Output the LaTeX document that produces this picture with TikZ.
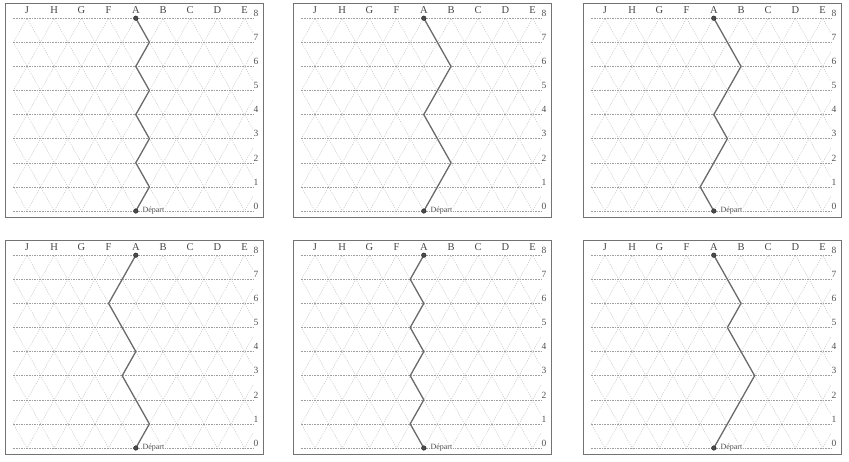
\documentclass[tikz,border=0pt]{standalone}
\usepackage{fontspec}
\setmainfont{Liberation Serif}
\begin{document}
\begin{tikzpicture}[x=1pt,y=1pt]
\tikzset{
 frame/.style={draw=black!55, line width=0.7pt},
 hline/.style={draw=black!38, line width=0.5pt, dash pattern=on 1.6pt off 1pt},
 dline/.style={draw=black!24, line width=0.45pt, dash pattern=on 1.2pt off 1.2pt},
 route/.style={draw=black!58, line width=1.3pt, line join=round},
 dot/.style={circle, fill=black!70, draw=black!85, line width=0.4pt, inner sep=0pt, minimum size=4.6pt},
 collab/.style={font=\fontsize{10.5}{10.5}\selectfont, text=black!72, inner sep=0pt},
 rowlab/.style={font=\fontsize{9.5}{9.5}\selectfont, text=black!68, inner sep=0pt, anchor=west},
 deplab/.style={font=\fontsize{8}{8}\selectfont, text=black!70, fill=white, inner sep=1pt, anchor=west},
}
\useasboundingbox (0,0) rectangle (849,461);
\newcommand\drawpanel[4]{%
\begin{scope}[shift={(#1,#2)}]
 \draw[frame] (0,0) rectangle (258,214);
 \begin{scope}[shift={(22,6)}, x=13.6pt, y=24.1pt]
  \begin{scope}
   \clip (-1,0) rectangle (16.6,8);
   \foreach \c in {-10,-8,...,18} \draw[dline] (\c-1,-1) -- (\c+9,9);
   \foreach \c in {-2,0,...,26} \draw[dline] (\c+1,-1) -- (\c-9,9);
  \end{scope}
  \foreach \r in {0,...,8} \draw[hline] (-1,\r) -- (16.6,\r);
  \foreach \l [count=\k from 0] in {J,H,G,F,A,B,C,D,E}
   \node[collab] (#4c\k) at (2*\k,8.33) {\l};
  \foreach \r in {0,...,8}
   \node[rowlab] (#4r\r) at (16.65,\r+0.2) {\r};
  \coordinate (#4s) at (8,0);
  \coordinate (#4e) at (8,8);
  \draw[route] (#4s) #3 -- (#4e);
  \node[dot] (#4ds) at (#4s) {};
  \node[dot] (#4de) at (#4e) {};
  \node[deplab] (#4lab) at ([xshift=3pt]#4ds.east) {Départ};
 \end{scope}
\end{scope}}
\drawpanel{5}{244}{-- (9,1) -- (8,2) -- (9,3) -- (8,4) -- (9,5) -- (8,6) -- (9,7)}{pa}
\drawpanel{293}{244}{-- (10,2) -- (8,4) -- (10,6)}{pb}
\drawpanel{583}{244}{-- (7,1) -- (9,3) -- (8,4) -- (10,6)}{pc}
\drawpanel{5}{7}{-- (9,1) -- (7,3) -- (8,4) -- (6,6)}{pd}
\drawpanel{293}{7}{-- (7,1) -- (8,2) -- (7,3) -- (8,4) -- (7,5) -- (8,6) -- (7,7)}{pe}
\drawpanel{583}{7}{-- (11,3) -- (9,5) -- (10,6)}{pf}
\end{tikzpicture}
\end{document}
